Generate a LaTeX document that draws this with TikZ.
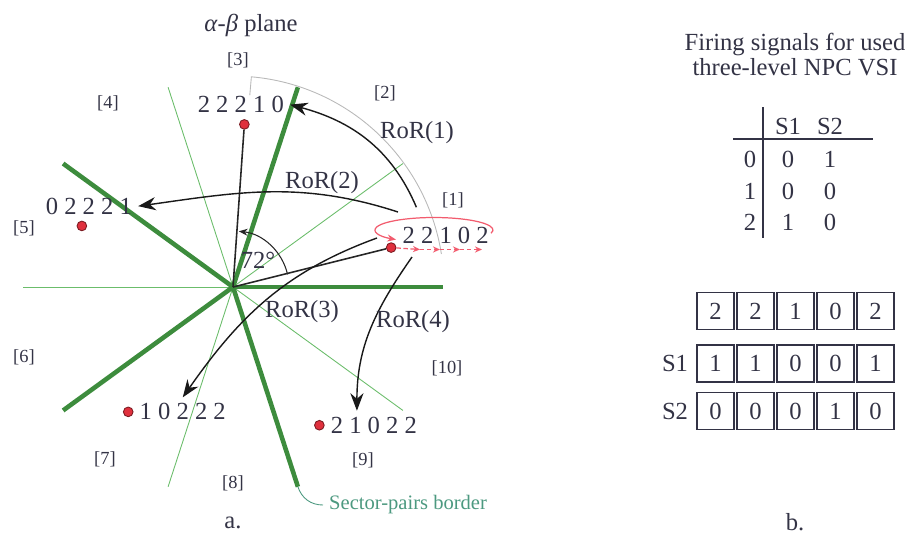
\documentclass[tikz,border=0pt]{standalone}
\usepackage{fontspec}
\setmainfont{Liberation Serif}
\usetikzlibrary{positioning}
\usetikzlibrary{arrows.meta}
\definecolor{mgreen}{rgb}{0.24, 0.55, 0.24}
\definecolor{lgreen}{rgb}{0.42, 0.74, 0.42}
\definecolor{mtext}{rgb}{0.2, 0.2, 0.27}
\definecolor{mred}{rgb}{0.88, 0.19, 0.24}
\definecolor{lred}{rgb}{0.95, 0.36, 0.43}
\definecolor{mteal}{rgb}{0.30, 0.60, 0.50}
\tikzset{circ/.style = {fill=mred, draw=mred!55!black, circle, inner sep = 0, minimum size = 5.5pt, line width = 0.5pt}}
\tikzset{bord/.style = {mgreen, line width = 2.6pt}}
\tikzset{half/.style = {lgreen, line width = 0.5pt}}
\tikzset{ror/.style = {black!90, line width = 0.8pt, -{Stealth[length = 10pt, width = 7.5pt]}}}
\tikzset{redstep/.style = {lred, line width = 0.7pt, dash pattern = on 2.5pt off 1.5pt, -{Stealth[length = 4pt, width = 3.5pt]}}}
\tikzset{sect/.style = {font = \fontsize{10.5}{12}\selectfont}}
\tikzset{cell/.style = {draw = mtext, line width = 0.6pt, minimum size = 0.74cm, inner sep = 0}}

\begin{document}
\begin{tikzpicture}[every node/.style = {text = mtext, font = \fontsize{14}{16}\selectfont}]
    \useasboundingbox (-4.66, -4.96) rectangle (13.58, 5.74);
    \coordinate (O) at (0, 0);

    % sectors
    \foreach \a in {36, 108, 180, 252, 324} \draw[half] (O) -- (\a:4.2);
    \foreach \a/\n in {0/1, 72/2, 144/3, 216/4, 288/5} \draw[bord] (O) -- (\a:4.2) coordinate (b\n);
    \draw[gray!55, line width = 0.5pt] (85:3.85) -- (85:4.22) arc[start angle = 85, end angle = 9, radius = 4.22];

    \node (ttl) at (0.36, 5.24) {\textit{α}-\textit{β} plane};
    \foreach \n/\x/\y in {1/4.40/1.74, 2/3.04/3.88, 3/0.10/4.54, 4/-2.50/3.68, 5/-4.18/1.18,
        6/-4.18/-1.40, 7/-2.56/-3.44, 8/0/-3.92, 9/2.60/-3.46, 10/4.28/-1.62}
        \node[sect] (s\n) at (\x, \y) {[\n]};

    % switching states
    \node[circ] (d1) at (14:3.26) {};
    \node[circ] (d2) at (86:3.26) {};
    \node[circ] (d3) at (158:3.26) {};
    \node[circ] (d4) at (230:3.26) {};
    \node[circ] (d5) at (302:3.26) {};
    \node[right = 0pt of d1, yshift = 7pt] (l1) {2 2 1 0 2};
    \node[above = 0pt of d2, xshift = -2pt] (l2) {2 2 2 1 0};
    \node[above = 0pt of d3, xshift = 4pt] (l3) {0 2 2 2 1};
    \node[right = 0pt of d4] (l4) {1 0 2 2 2};
    \node[right = 0pt of d5] (l5) {2 1 0 2 2};

    \draw[black!85, line width = 0.9pt] (O) -- (d1);
    \draw[black!85, line width = 0.9pt] (O) -- (d2);
    \draw[black!85, line width = 0.6pt, -{Stealth[length = 5pt, width = 4pt]}] (13:1.12) arc[start angle = 13, end angle = 84, radius = 1.12];
    \node (ang) at (0.5, 0.54) {72°};

    % rotations
    \coordinate (r1s) at (23.5:4.0);
    \coordinate (r2s) at (3.30, 1.50);
    \coordinate (r3s) at (2.88, 0.98);
    \coordinate (r4s) at (3.58, 0.60);
    \draw[ror] (r1s) to[out = 113, in = -15] (l2.east);
    \draw[ror] (r2s) to[out = 162, in = 8] (l3.east);
    \draw[ror] (r3s) to[out = 200, in = 55] (l4.north);
    \draw[ror] (r4s) to[out = 235, in = 90] ([xshift = -0.34cm]l5.north);
    \node (ror1) at (3.68, 3.08) {RoR(1)};
    \node (ror2) at (1.78, 2.08) {RoR(2)};
    \node (ror3) at (1.38, -0.50) {RoR(3)};
    \node (ror4) at (3.60, -0.70) {RoR(4)};

    \coordinate (ec) at (4.02, 1.14);
    \draw[lred, line width = 0.7pt, -{Stealth[length = 5pt, width = 4pt]}] ([shift = {(-15:1.18 and 0.25)}]ec)
        arc[start angle = -15, end angle = 230, x radius = 1.18, y radius = 0.25];
    \foreach \x [count = \i] in {3.74, 4.14, 4.54, 4.98} \coordinate (t\i) at (\x, 0.75);
    \foreach \p/\q in {d1/t1, t1/t2, t2/t3, t3/t4} \draw[redstep] (\p) -- (\q);

    \node[text = mteal, font = \fontsize{11.7}{13}\selectfont, anchor = west] (spb) at (1.80, -4.36) {Sector-pairs border};
    \draw[mteal, line width = 0.5pt] (b5) to[out = 288, in = 180] (spb.west);
    \node[inner sep = 1pt] (capa) at (0, -4.72) {a.};

    % firing signals
    \node[align = center, font = \fontsize{14}{14.2}\selectfont] (ftl) at (11.24, 4.65) {Firing signals for used\\three-level NPC VSI};
    \draw[mtext, line width = 0.6pt] (10.60, 3.60) -- (10.60, 0.98);
    \draw[mtext, line width = 0.6pt] (10.0, 2.96) -- (12.8, 2.96);
    \node (hs1) at (11.10, 3.22) {S1};
    \node (hs2) at (11.94, 3.22) {S2};
    \foreach \r/\a/\b [count = \i] in {0/0/1, 1/0/0, 2/1/0} {
        \node (rl\i) at (10.34, 3.18 - 0.63 * \i) {\r};
        \node (ra\i) at (11.10, 3.18 - 0.63 * \i) {\a};
        \node (rb\i) at (11.94, 3.18 - 0.63 * \i) {\b};
    }

    \foreach \v [count = \i] in {2, 2, 1, 0, 2} \node[cell] (c\i) at (8.85 + 0.8 * \i, -0.48) {\v};
    \foreach \v [count = \i] in {1, 1, 0, 0, 1} \node[cell] (p\i) at (8.85 + 0.8 * \i, -1.53) {\v};
    \foreach \v [count = \i] in {0, 0, 0, 1, 0} \node[cell] (q\i) at (8.85 + 0.8 * \i, -2.48) {\v};
    \node (ls1) at (8.84, -1.53) {S1};
    \node (ls2) at (8.84, -2.48) {S2};
    \node[inner sep = 1pt] (capb) at (11.24, -4.70) {b.};
\end{tikzpicture}
\end{document}
